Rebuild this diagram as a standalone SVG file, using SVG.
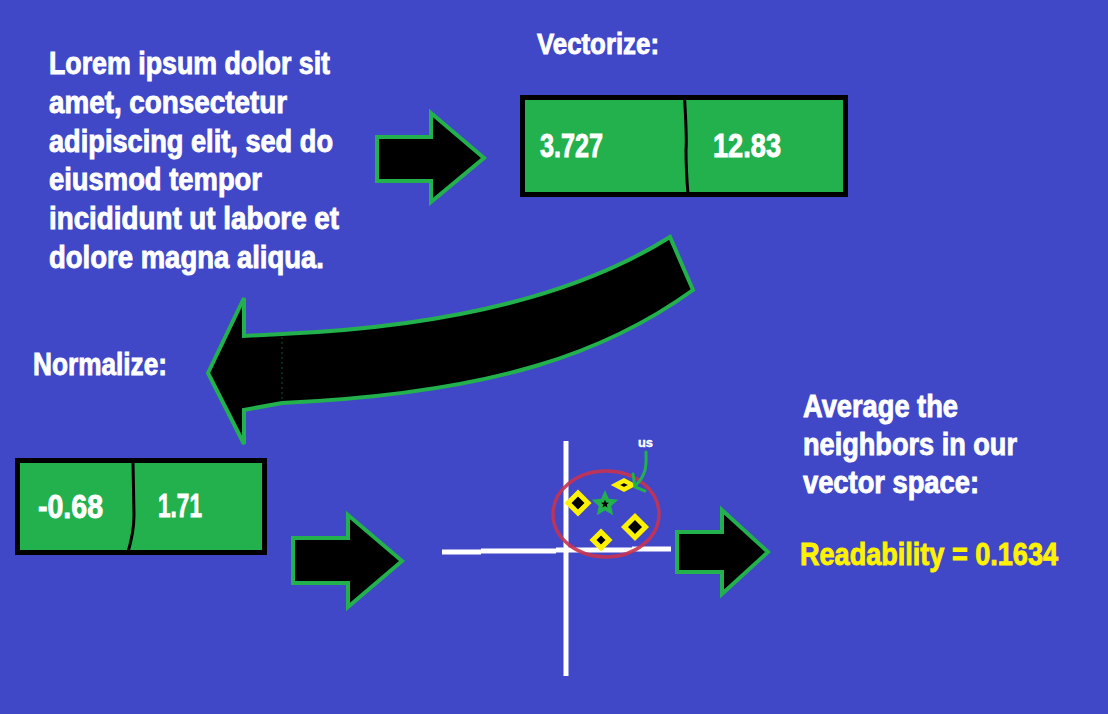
<svg xmlns="http://www.w3.org/2000/svg" width="1108" height="714" viewBox="0 0 1108 714">
<defs>
<style>
.t{font-family:"Liberation Sans",Arial,sans-serif;font-weight:bold;fill:#fff;stroke:#fff;stroke-width:0.9;}
.big{font-size:31px;}
.num{font-size:34px;}
.arr{fill:#000;stroke:#22B14C;stroke-width:4;stroke-linejoin:miter;}
.box{fill:#22B14C;stroke:#000;stroke-width:5;}
.div{fill:none;stroke:#000;stroke-width:3;}
.dia{fill:#000;stroke:#FFF200;stroke-width:5;stroke-linejoin:miter;}
.axis{stroke:#fff;stroke-width:5;stroke-linecap:butt;fill:none;}
</style>
<path id="star" d="M0,-14 L3.8,-5.3 L13.3,-4.3 L6.2,2 L8.2,11.3 L0,6.5 L-8.2,11.3 L-6.2,2 L-13.3,-4.3 L-3.8,-5.3 Z"/>
</defs>
<rect width="1108" height="714" fill="#4048C8"/>

<g id="intro-text">
<text class="t big" x="49" y="74" textLength="281" lengthAdjust="spacingAndGlyphs">Lorem ipsum dolor sit</text>
<text class="t big" x="49" y="113" textLength="238" lengthAdjust="spacingAndGlyphs">amet, consectetur</text>
<text class="t big" x="49" y="152" textLength="284" lengthAdjust="spacingAndGlyphs">adipiscing elit, sed do</text>
<text class="t big" x="49" y="190" textLength="213" lengthAdjust="spacingAndGlyphs">eiusmod tempor</text>
<text class="t big" x="49" y="229" textLength="290" lengthAdjust="spacingAndGlyphs">incididunt ut labore et</text>
<text class="t big" x="49" y="268" textLength="275" lengthAdjust="spacingAndGlyphs">dolore magna aliqua.</text>
</g>

<g id="vectorize">
<text class="t" style="font-size:30px" x="537" y="54" textLength="122" lengthAdjust="spacingAndGlyphs">Vectorize:</text>
<rect class="box" x="522.5" y="97.5" width="323" height="97"/>
<path class="div" d="M684.5,97 Q687,140 686,150 Q686,170 688,194"/>
<text class="t num" x="540" y="157" textLength="63" lengthAdjust="spacingAndGlyphs">3.727</text>
<text class="t num" x="713" y="157" textLength="68" lengthAdjust="spacingAndGlyphs">12.83</text>
</g>

<g id="normalize">
<text class="t" style="font-size:32px" x="33" y="375" textLength="134" lengthAdjust="spacingAndGlyphs">Normalize:</text>
<rect class="box" x="17.5" y="460.5" width="247" height="92"/>
<path class="div" d="M133,462 L134,515 Q134,532 128,552"/>
<text class="t num" x="38" y="518" textLength="65" lengthAdjust="spacingAndGlyphs">-0.68</text>
<text class="t num" x="158" y="517" textLength="44" lengthAdjust="spacingAndGlyphs">1.71</text>
</g>

<g id="vector-space">
<line class="axis" x1="566" y1="441" x2="566" y2="676" stroke-linecap="round"/>
<path class="axis" d="M442,552 L481,552 M481,551 L556,551 M556,550 L632,550 M632,549 L671,549"/>
<ellipse cx="606" cy="514" rx="53" ry="43" fill="none" stroke="#C9324F" stroke-width="3.5" opacity="0.9"/>
<polygon class="dia" points="578,493 588,503 578,513 568,503"/>
<polygon class="dia" points="601,532 609,540 601,548 593,540"/>
<polygon class="dia" points="635,516.5 645.5,527 635,537.5 624.5,527"/>
<polygon class="dia" style="stroke-width:4.5" points="615.5,485 624,480.5 632.5,485 624,489.5"/>
<use href="#star" transform="translate(605,504)" fill="#22B14C"/>
<use href="#star" transform="translate(605,504) scale(0.3)" fill="#000"/>
<text class="t" style="font-size:13px;stroke-width:0.4" x="638" y="447" textLength="15" lengthAdjust="spacingAndGlyphs">us</text>
</g>

<g id="average">
<text class="t big" x="803" y="417" textLength="155" lengthAdjust="spacingAndGlyphs">Average the</text>
<text class="t big" x="803" y="455" textLength="214" lengthAdjust="spacingAndGlyphs">neighbors in our</text>
<text class="t big" x="803" y="493" textLength="176" lengthAdjust="spacingAndGlyphs">vector space:</text>
<text class="t big" style="fill:#FFF200;stroke:#FFF200" x="800" y="565" textLength="258" lengthAdjust="spacingAndGlyphs">Readability = 0.1634</text>
</g>

<g id="connectors">
<polygon class="arr" points="377,137 431,137 431,113 484,158 431,202 431,181 377,181"/>
<path class="arr" d="M208,373 L244,298 L244,336 L282,334 C420,328 565,303 670,237 L693,290 C610,350 500,393 282,403 L244,410 L244,444 Z"/>
<line x1="282" y1="337" x2="282" y2="401" stroke="#0a5a20" stroke-width="1" stroke-dasharray="2 3"/>
<polygon class="arr" points="293,538 348,538 348,515 402,561 348,607 348,583 293,583"/>
<polygon class="arr" points="677,532 722,532 722,510 768,552 722,594 722,572 677,572"/>
<path d="M646,452 C646,462 648,473 636,485" fill="none" stroke="#22B14C" stroke-width="3" stroke-linecap="round"/>
<path d="M633,474 L635,487 L645,491" fill="none" stroke="#22B14C" stroke-width="3" stroke-linecap="round"/>
</g>
</svg>
